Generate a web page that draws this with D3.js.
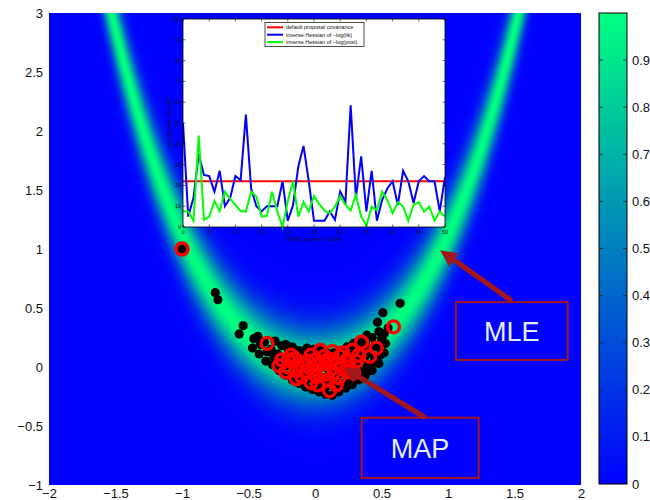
<!DOCTYPE html>
<html>
<head>
<meta charset="utf-8">
<script src="https://cdn.jsdelivr.net/npm/d3@7"></script>
<style>
body { margin: 0; background: #fff; }
svg { font-family: "Liberation Sans", Arial, sans-serif; }
</style>
</head>
<body>
<div id="chart"></div>
<script>
// banana-shaped target: ridge y = x^2 + q*x^4, gaussian across it
var ridgeWidth = 0.22;
var ridgeQuartic = 0.12;

var xTicks = [-2, -1.5, -1, -0.5, 0, 0.5, 1, 1.5, 2];
var yTicks = [-1, -0.5, 0, 0.5, 1, 1.5, 2, 2.5, 3];
var cbTicks = [0, 0.1, 0.2, 0.3, 0.4, 0.5, 0.6, 0.7, 0.8, 0.9];

// MCMC samples (black) and selected points (red rings)
var samples = [
  [-1.0, 1.0], [-0.75, 0.63], [-0.73, 0.57], [-0.54, 0.35], [-0.57, 0.28],
  [0.64, 0.54], [0.51, 0.46], [0.47, 0.38], [0.55, 0.33],
  [-0.47, 0.16], [-0.46, 0.24], [-0.42, 0.11], [-0.41, 0.19], [-0.43, 0.26],
  [-0.37, 0.05], [-0.36, 0.13], [-0.38, 0.21], [-0.32, 0.02], [-0.31, 0.09],
  [-0.33, 0.15], [-0.30, 0.22], [-0.27, -0.03], [-0.26, 0.05], [-0.28, 0.11],
  [-0.25, 0.18], [-0.22, -0.07], [-0.21, 0.01], [-0.23, 0.07], [-0.20, 0.14],
  [-0.22, 0.19], [-0.17, -0.11], [-0.16, -0.03], [-0.18, 0.04], [-0.15, 0.11],
  [-0.17, 0.17], [-0.12, -0.14], [-0.11, -0.07], [-0.13, 0.01], [-0.10, 0.07],
  [-0.12, 0.14], [-0.07, -0.17], [-0.06, -0.10], [-0.08, -0.03], [-0.05, 0.04],
  [-0.07, 0.11], [-0.06, 0.16], [-0.02, -0.19], [-0.01, -0.12], [-0.03, -0.05],
  [0.0, 0.02], [-0.02, 0.09], [-0.01, 0.15], [0.03, -0.21], [0.04, -0.14],
  [0.02, -0.07], [0.05, 0.0], [0.03, 0.07], [0.04, 0.14], [0.08, -0.23],
  [0.09, -0.16], [0.07, -0.09], [0.10, -0.02], [0.08, 0.05], [0.09, 0.12],
  [0.13, -0.24], [0.14, -0.16], [0.12, -0.09], [0.15, -0.02], [0.13, 0.05],
  [0.14, 0.12], [0.18, -0.21], [0.19, -0.14], [0.17, -0.07], [0.20, 0.0],
  [0.18, 0.07], [0.19, 0.14], [0.23, -0.18], [0.24, -0.11], [0.22, -0.04],
  [0.25, 0.03], [0.23, 0.10], [0.24, 0.17], [0.28, -0.15], [0.29, -0.08],
  [0.27, -0.01], [0.30, 0.06], [0.28, 0.13], [0.29, 0.20], [0.33, -0.11],
  [0.34, -0.04], [0.32, 0.03], [0.35, 0.10], [0.33, 0.17], [0.34, 0.23],
  [0.38, -0.07], [0.39, 0.0], [0.37, 0.07], [0.40, 0.14], [0.38, 0.21],
  [0.39, 0.27], [0.43, -0.03], [0.44, 0.04], [0.42, 0.11], [0.45, 0.18],
  [0.43, 0.25], [0.48, 0.03], [0.49, 0.10], [0.47, 0.17], [0.50, 0.24],
  [0.48, 0.30], [0.52, 0.12], [0.53, 0.20], [0.52, 0.28]
];
var selected = [
  [-1.0, 1.0], [0.59, 0.34], [-0.36, 0.20], [-0.25, 0.06], [-0.15, 0.07],
  [-0.14, -0.03], [-0.05, 0.05], [-0.06, -0.04], [0.04, 0.14], [0.13, 0.13],
  [0.09, 0.03], [0.01, -0.08], [-0.14, -0.10], [-0.03, -0.13], [0.10, -0.11],
  [0.11, -0.20], [0.20, -0.01], [0.28, 0.14], [0.35, 0.21], [0.46, 0.16],
  [0.41, 0.09], [0.31, 0.05], [0.24, 0.06], [0.19, 0.09], [0.29, -0.05],
  [0.14, -0.05], [-0.20, 0.00], [0.04, 0.02], [-0.10, 0.02], [0.00, 0.06],
  [0.06, -0.04], [-0.20, 0.06], [0.16, 0.03], [0.24, -0.04],
  [-0.27, 0.01], [-0.22, -0.04], [-0.10, -0.08], [0.00, -0.02], [0.08, -0.06],
  [0.18, -0.09], [0.26, 0.00], [0.33, 0.10], [0.12, 0.06], [-0.03, 0.10],
  [0.07, 0.09], [0.21, 0.12], [-0.18, 0.10], [0.02, -0.15], [0.16, -0.15]
];

var arrowMLE = {from: [1.48, 0.56], to: [0.94, 0.99]};
var arrowMAP = {from: [0.83, -0.43], to: [0.21, 0.0]};
var boxMLE = {x0: 1.06, x1: 1.9, y0: 0.06, y1: 0.55, label: "MLE"};
var boxMAP = {x0: 0.35, x1: 1.23, y0: -0.94, y1: -0.43, label: "MAP"};

// inset: acceptance rate per MCMC cycle
var cycles = d3.range(0, 51);
var defaultCov = 22;
var hessLik = [50, 5, 14, 35, 25, 24.5, 17, 27, 10, 14, 24.5, 22.5, 54, 18.5, 10, 7.5, 10, 10, 10, 22,
  3, 10.5, 29, 39, 22, 3, 3, 3, 7.5, 3.5, 17, 12, 58.5, 14, 34, 7.5, 27, 3, 13, 18.5,
  22, 10.5, 27, 22, 11.5, 22, 24.5, 22, 22, 7.5, 24];
var hessPost = [7.7, 7.4, 3, 44, 3.4, 5, 12.5, 7.7, 17, 13.5, 10.6, 7.7, 7.4, 17, 14.6, 5, 5.4, 17, 7.4, 0,
  12.5, 22, 5, 12, 7.4, 15, 11, 8, 6.6, 9.8, 15, 10.6, 8, 15.4, 5, 0.6, 9.8, 8, 17, 13,
  6.6, 12, 9.8, 3, 10.6, 12, 7.4, 9.8, 3, 7.4, 5];
var insetXTicks = [0, 5, 10, 15, 20, 25, 30, 35, 40, 45, 50];
var insetYTicks = [0, 10, 20, 30, 40, 50, 60, 70, 80, 90, 100];
var legendNames = ["default proposal covariance", "inverse Hessian of \u2212log(lik)", "inverse Hessian of \u2212log(post)"];
var legendColors = ["#ff0000", "#0000ff", "#00ff00"];

var W = 650, H = 500;
var svg = d3.select("#chart").append("svg").attr("width", W).attr("height", H);

var x = d3.scaleLinear().domain([-2, 2]).range([49, 581]);
var y = d3.scaleLinear().domain([-1, 3]).range([485, 13]);

// matlab "winter"
var winter = function(t) { return d3.rgb(0, 255 * t, 255 * (1 - t / 2)); };
var color = d3.scaleSequential(winter).domain([0, 1]);

// heat map drawn into a canvas then put in the svg
var pw = Math.round(x(2) - x(-2)), ph = Math.round(y(-1) - y(3));
var cnv = document.createElement("canvas");
cnv.width = pw; cnv.height = ph;
var ctx = cnv.getContext("2d");
var img = ctx.createImageData(pw, ph);
var lut = d3.range(256).map(function(i) { return color(i / 255); });
for (var j = 0; j < ph; j++) {
  var yy = y.invert(y(3) + j + 0.5);
  for (var i = 0; i < pw; i++) {
    var xx = x.invert(x(-2) + i + 0.5);
    var x2 = xx * xx;
    var d = yy - (x2 + ridgeQuartic * x2 * x2);
    var v = Math.exp(-d * d / (2 * ridgeWidth * ridgeWidth));
    var c = lut[Math.round(v * 255)];
    var k = (j * pw + i) * 4;
    img.data[k] = c.r; img.data[k + 1] = c.g; img.data[k + 2] = c.b; img.data[k + 3] = 255;
  }
}
ctx.putImageData(img, 0, 0);
svg.append("image")
  .attr("x", x(-2)).attr("y", y(3))
  .attr("width", pw).attr("height", ph)
  .attr("preserveAspectRatio", "none")
  .attr("href", cnv.toDataURL());

// axes
var xAxis = svg.append("g").attr("transform", "translate(0," + y(-1) + ")")
  .call(d3.axisBottom(x).tickValues(xTicks).tickSize(0).tickPadding(4)
    .tickFormat(function(d) { return String(d).replace("-", "\u2212"); }));
var yAxis = svg.append("g").attr("transform", "translate(" + x(-2) + ",0)")
  .call(d3.axisLeft(y).tickValues(yTicks).tickSize(0).tickPadding(6)
    .tickFormat(function(d) { return String(d).replace("-", "\u2212"); }));
[xAxis, yAxis].forEach(function(a) {
  a.select(".domain").remove();
  a.selectAll("text").attr("font-size", 13).attr("fill", "#111");
});

// colorbar
var cb = d3.scaleLinear().domain([0, 1]).range([484, 13]);
var cbX = 599, cbW = 28;
var defs = svg.append("defs");
var grad = defs.append("linearGradient").attr("id", "cbgrad")
  .attr("x1", 0).attr("y1", 1).attr("x2", 0).attr("y2", 0);
grad.selectAll("stop").data(d3.range(0, 1.01, 0.1)).enter().append("stop")
  .attr("offset", function(d) { return d; })
  .attr("stop-color", function(d) { return color(d); });
svg.append("rect").attr("x", cbX).attr("y", cb(1)).attr("width", cbW).attr("height", cb(0) - cb(1))
  .attr("fill", "url(#cbgrad)").attr("stroke", "#000").attr("stroke-width", 1);
var cbg = svg.append("g");
cbg.selectAll(".tl").data(cbTicks.slice(1)).enter().append("line")
  .attr("x1", cbX).attr("x2", cbX + 4)
  .attr("y1", function(d) { return cb(d); }).attr("y2", function(d) { return cb(d); })
  .attr("stroke", "#222").attr("stroke-width", 0.8);
cbg.selectAll(".tr").data(cbTicks.slice(1)).enter().append("line")
  .attr("x1", cbX + cbW - 4).attr("x2", cbX + cbW)
  .attr("y1", function(d) { return cb(d); }).attr("y2", function(d) { return cb(d); })
  .attr("stroke", "#222").attr("stroke-width", 0.8);
cbg.selectAll("text").data(cbTicks).enter().append("text")
  .attr("x", cbX + cbW + 5).attr("y", function(d) { return cb(d); })
  .attr("dy", "0.35em").attr("font-size", 13).attr("fill", "#111")
  .text(function(d) { return d; });

// samples
svg.append("g").selectAll("circle").data(samples).enter().append("circle")
  .attr("cx", function(d) { return x(d[0]); })
  .attr("cy", function(d) { return y(d[1]); })
  .attr("r", 4.6).attr("fill", "#000");
svg.append("g").selectAll("circle").data(selected).enter().append("circle")
  .attr("cx", function(d) { return x(d[0]); })
  .attr("cy", function(d) { return y(d[1]); })
  .attr("r", 6).attr("fill", "none").attr("stroke", "#ff0000").attr("stroke-width", 3.4);

// annotations
var annoColor = "#a3161a";
function arrow(a) {
  var x0 = x(a.from[0]), y0 = y(a.from[1]), x1 = x(a.to[0]), y1 = y(a.to[1]);
  var dx = x1 - x0, dy = y1 - y0, len = Math.sqrt(dx * dx + dy * dy);
  var ux = dx / len, uy = dy / len, nx = -uy, ny = ux;
  var hl = 17, hw = 8, sw = 2.6;
  var bx = x1 - ux * hl, by = y1 - uy * hl;
  var pts = [
    [x0 + nx * sw, y0 + ny * sw], [bx + nx * sw, by + ny * sw], [bx + nx * hw, by + ny * hw],
    [x1, y1], [bx - nx * hw, by - ny * hw], [bx - nx * sw, by - ny * sw], [x0 - nx * sw, y0 - ny * sw]
  ];
  svg.append("path").attr("d", d3.line()(pts) + "Z").attr("fill", annoColor);
}
arrow(arrowMLE);
arrow(arrowMAP);
[boxMLE, boxMAP].forEach(function(b) {
  svg.append("rect")
    .attr("x", x(b.x0)).attr("y", y(b.y1))
    .attr("width", x(b.x1) - x(b.x0)).attr("height", y(b.y0) - y(b.y1))
    .attr("fill", "none").attr("stroke", annoColor).attr("stroke-width", 2);
  svg.append("text")
    .attr("x", (x(b.x0) + x(b.x1)) / 2).attr("y", (y(b.y0) + y(b.y1)) / 2)
    .attr("dy", "0.36em").attr("text-anchor", "middle")
    .attr("font-size", 27).attr("fill", "#e4f0ff")
    .text(b.label);
});

// inset
var ix = d3.scaleLinear().domain([0, 50]).range([183, 445]);
var iy = d3.scaleLinear().domain([0, 100]).range([227, 19]);
var inset = svg.append("g");
inset.append("rect").attr("x", ix(0)).attr("y", iy(100))
  .attr("width", ix(50) - ix(0)).attr("height", iy(0) - iy(100))
  .attr("fill", "#fff");

var line = d3.line().x(function(d, i) { return ix(cycles[i]); }).y(function(d) { return iy(d); });
inset.append("path").datum(cycles.map(function() { return defaultCov; }))
  .attr("d", line).attr("fill", "none").attr("stroke", legendColors[0]).attr("stroke-width", 2);
inset.append("path").datum(hessLik)
  .attr("d", line).attr("fill", "none").attr("stroke", legendColors[1]).attr("stroke-width", 2);
inset.append("path").datum(hessPost)
  .attr("d", line).attr("fill", "none").attr("stroke", legendColors[2]).attr("stroke-width", 2);

inset.append("rect").attr("x", ix(0)).attr("y", iy(100))
  .attr("width", ix(50) - ix(0)).attr("height", iy(0) - iy(100))
  .attr("fill", "none").attr("stroke", "#000").attr("stroke-width", 0.8);

// inward ticks on all four sides
insetXTicks.forEach(function(t) {
  inset.append("line").attr("x1", ix(t)).attr("x2", ix(t)).attr("y1", iy(0)).attr("y2", iy(0) - 2.5)
    .attr("stroke", "#000").attr("stroke-width", 0.6);
  inset.append("line").attr("x1", ix(t)).attr("x2", ix(t)).attr("y1", iy(100)).attr("y2", iy(100) + 2.5)
    .attr("stroke", "#000").attr("stroke-width", 0.6);
});
insetYTicks.forEach(function(t) {
  inset.append("line").attr("x1", ix(0)).attr("x2", ix(0) + 2.5).attr("y1", iy(t)).attr("y2", iy(t))
    .attr("stroke", "#000").attr("stroke-width", 0.6);
  inset.append("line").attr("x1", ix(50)).attr("x2", ix(50) - 2.5).attr("y1", iy(t)).attr("y2", iy(t))
    .attr("stroke", "#000").attr("stroke-width", 0.6);
});
inset.selectAll(".ixl").data(insetXTicks).enter().append("text")
  .attr("x", function(d) { return ix(d); }).attr("y", iy(0) + 7)
  .attr("text-anchor", "middle").attr("font-size", 5.5).attr("fill", "#111")
  .text(function(d) { return d; });
inset.selectAll(".iyl").data(insetYTicks).enter().append("text")
  .attr("x", ix(0) - 2).attr("y", function(d) { return iy(d); }).attr("dy", "0.35em")
  .attr("text-anchor", "end").attr("font-size", 5.5).attr("fill", "#111")
  .text(function(d) { return d; });
inset.append("text").attr("x", (ix(0) + ix(50)) / 2).attr("y", iy(0) + 14)
  .attr("text-anchor", "middle").attr("font-size", 5.5).attr("fill", "#111")
  .text("MCMC cycles (\u00d7 1000)");
inset.append("text")
  .attr("transform", "translate(" + (ix(0) - 12) + "," + iy(50) + ") rotate(-90)")
  .attr("text-anchor", "middle").attr("font-size", 5.5).attr("fill", "#111")
  .text("acceptance rate (%)");

// legend
var lg = inset.append("g").attr("transform", "translate(265,22.5)");
lg.append("rect").attr("width", 99).attr("height", 24)
  .attr("fill", "#fff").attr("stroke", "#000").attr("stroke-width", 0.7);
legendNames.forEach(function(n, i) {
  var yy = 4.8 + i * 7.4;
  lg.append("line").attr("x1", 2).attr("x2", 18).attr("y1", yy).attr("y2", yy)
    .attr("stroke", legendColors[i]).attr("stroke-width", 2);
  lg.append("text").attr("x", 21).attr("y", yy).attr("dy", "0.35em")
    .attr("font-size", 5.5).attr("fill", "#111").text(n);
});
</script>
</body>
</html>
